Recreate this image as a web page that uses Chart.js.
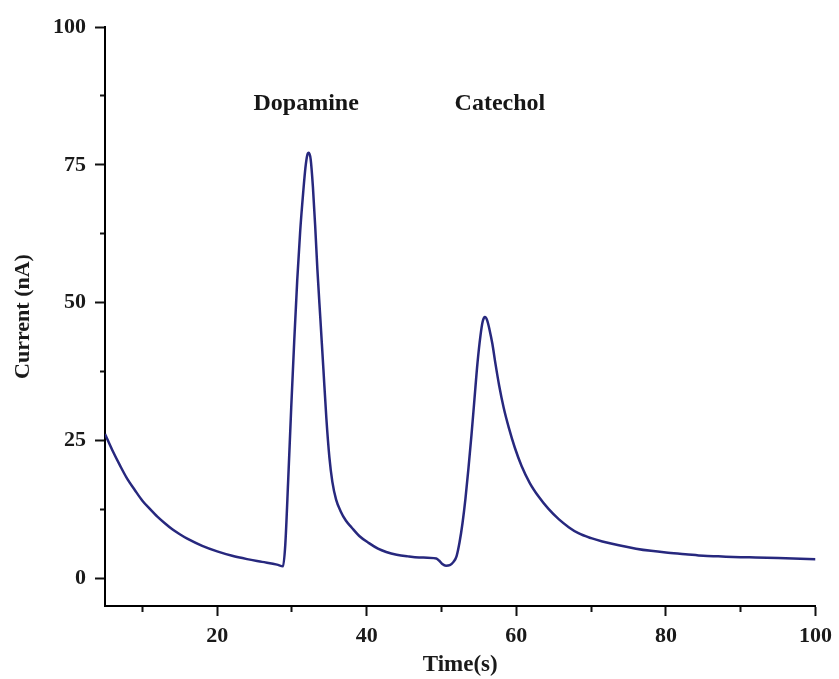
<!DOCTYPE html>
<html>
<head>
<meta charset="utf-8">
<script src="https://cdn.jsdelivr.net/npm/chart.js@4.4.1/dist/chart.umd.min.js"></script>
<style>
  html, body { margin: 0; padding: 0; background: #ffffff; }
  #wrap { width: 839px; height: 679px; position: relative; }
</style>
</head>
<body>
<div id="wrap"><canvas id="c"></canvas></div>
<script>
// ---- data ----
const timeS = [5, 6, 7, 8, 9, 10, 11, 12, 13, 14, 15, 16, 18, 20, 22, 24, 26, 28, 28.8,
  29.1, 29.5, 29.9, 30.3, 30.7, 31.1, 31.5, 31.8, 32.05, 32.25, 32.5, 32.8, 33.1, 33.4,
  33.8, 34.2, 34.6, 35.0, 35.4, 35.9, 36.5, 37.2, 38, 39, 40.3, 41.5, 42.6, 44, 45.5, 47,
  49.3, 49.7, 50.1, 50.6, 51.1, 51.6, 52.0, 52.4, 52.8, 53.2, 53.6, 54.0, 54.4, 54.8, 55.2,
  55.5, 55.8, 56.1, 56.4, 56.8, 57.2, 57.7, 58.3, 59, 59.8, 60.7, 61.8, 63, 64.3, 65.7, 67,
  68.3, 70, 71.5, 73.7, 76, 78, 80, 82.6, 85, 87, 90, 92, 95, 97, 100];
const currentNA = [26.2, 23.2, 20.5, 18.0, 16.0, 14.1, 12.6, 11.2, 10.0, 8.9, 8.0, 7.2, 5.9, 4.9, 4.1, 3.5, 3.0, 2.5, 2.2,
  6, 18, 31, 43, 54, 63, 70, 74.5, 76.8, 77.2, 76, 71, 64, 56,
  47, 38, 29, 22, 17.5, 14.3, 12.2, 10.5, 9.2, 7.7, 6.4, 5.4, 4.8, 4.3, 4.0, 3.8,
  3.6, 3.2, 2.6, 2.3, 2.4, 3.0, 4.0, 6.5, 10, 14.5, 20, 26, 32.5, 39, 44,
  46.6, 47.4, 46.8, 45.2, 42.5, 39, 35, 31, 27.3, 23.7, 20.4, 17.3, 14.8, 12.6, 10.7, 9.3,
  8.2, 7.3, 6.7, 6.0, 5.4, 5.0, 4.7, 4.4, 4.1, 4.0, 3.85, 3.8, 3.7, 3.6, 3.5];

const xTickValues = [10, 20, 30, 40, 50, 60, 70, 80, 90, 100];
const xTickLabels = ['20', '40', '60', '80', '100'];
const yTickValues = [0, 12.5, 25, 37.5, 50, 62.5, 75, 87.5, 100];
const yTickLabels = ['0', '25', '50', '75', '100'];

const peakNames = ['Dopamine', 'Catechol'];
const peakNameX = [31.9, 57.8];
const peakNameY = [86, 86];

const xTitle = 'Time(s)';
const yTitle = 'Current (nA)';

// ---- chart ----
const FONT = '"Liberation Serif", "Times New Roman", serif';
const isMajor = (labels, v) => labels.includes(String(v));

const peakLabelPlugin = {
  id: 'peakLabels',
  afterDatasetsDraw(chart) {
    const { ctx, scales } = chart;
    ctx.save();
    ctx.font = 'bold 24px ' + FONT;
    ctx.fillStyle = '#161616';
    ctx.textAlign = 'center';
    ctx.textBaseline = 'middle';
    peakNames.forEach((name, i) => {
      ctx.fillText(name, scales.x.getPixelForValue(peakNameX[i]), scales.y.getPixelForValue(peakNameY[i]));
    });
    ctx.restore();
  }
};

new Chart(document.getElementById('c'), {
  type: 'line',
  data: {
    datasets: [{
      data: timeS.map((t, i) => ({ x: t, y: currentNA[i] })),
      borderColor: '#27287e',
      borderWidth: 2.5,
      pointRadius: 0,
      fill: false,
      cubicInterpolationMode: 'monotone'
    }]
  },
  options: {
    responsive: true,
    maintainAspectRatio: false,
    animation: false,
    layout: { padding: { top: 27, right: 20, left: 0, bottom: 0 } },
    plugins: { legend: { display: false }, tooltip: { enabled: false } },
    scales: {
      x: {
        type: 'linear',
        position: 'bottom',
        min: 5,
        max: 100,
        afterBuildTicks: s => { s.ticks = xTickValues.map(v => ({ value: v })); },
        afterFit: s => { s.height = 73; },
        ticks: {
          autoSkip: false,
          maxRotation: 0,
          padding: 7,
          color: '#1a1a1a',
          font: { family: FONT, size: 22, weight: 'bold' },
          callback: v => isMajor(xTickLabels, v) ? String(v) : ''
        },
        grid: {
          drawOnChartArea: false,
          drawTicks: true,
          tickLength: 10,
          tickWidth: 2,
          tickColor: '#111',
          tickBorderDash: c => (c.tick && !isMajor(xTickLabels, c.tick.value)) ? [5, 5] : []
        },
        border: { display: true, color: '#000', width: 2 },
        title: {
          display: true,
          text: xTitle,
          color: '#1a1a1a',
          font: { family: FONT, size: 23, weight: 'bold' },
          padding: { top: 0, bottom: 0 }
        }
      },
      y: {
        type: 'linear',
        position: 'left',
        min: -5,
        max: 100,
        afterBuildTicks: s => { s.ticks = yTickValues.map(v => ({ value: v })); },
        afterFit: s => { s.width = 105; },
        ticks: {
          autoSkip: false,
          padding: 9,
          color: '#1a1a1a',
          font: { family: FONT, size: 22, weight: 'bold' },
          callback: v => isMajor(yTickLabels, v) ? String(v) : ''
        },
        grid: {
          drawOnChartArea: false,
          drawTicks: true,
          tickLength: 10,
          tickWidth: 2,
          tickColor: '#111',
          tickBorderDash: c => (c.tick && !isMajor(yTickLabels, c.tick.value)) ? [5, 5] : [],
          tickBorderDashOffset: c => (c.tick && !isMajor(yTickLabels, c.tick.value)) ? 5 : 0
        },
        border: { display: true, color: '#000', width: 2 },
        title: {
          display: true,
          text: yTitle,
          color: '#1a1a1a',
          font: { family: FONT, size: 22, weight: 'bold' },
          padding: { top: 10, bottom: 0 }
        }
      }
    }
  },
  plugins: [peakLabelPlugin]
});
</script>
</body>
</html>
